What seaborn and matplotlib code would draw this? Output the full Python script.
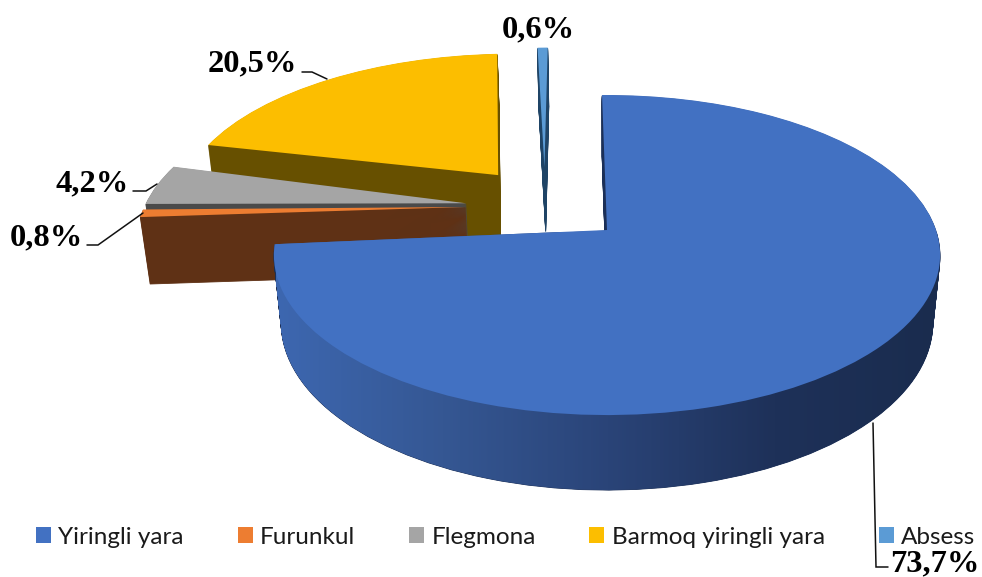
import numpy as np
import matplotlib
matplotlib.use("Agg")
import matplotlib.pyplot as plt
import seaborn as sns
from matplotlib.path import Path
from matplotlib.transforms import Affine2D, Transform

names = ["Yiringli yara", "Furunkul", "Flegmona", "Barmoq yiringli yara", "Absess"]
values = [73.7, 0.8, 4.2, 20.5, 0.6]
value_labels = ["73,7%", "0,8%", "4,2%", "20,5%", "0,6%"]

top_colors = ["#4271C2", "#ED7D31", "#A5A5A5", "#FCBE00", "#5B9BD5"]
wall_colors = ["#1B2F57", "#5F3115", "#4A4A4A", "#675000", "#1F4466"]
rim_colors = ["#3D67B0", "#355793", "#2A4478", "#1E3159", "#1A2C4E"]

# how far each slice is pulled out of the pie, in pie radii
offsets = [(0, 0), (-0.44, 0.151), (-0.44, 0.176), (-0.35, 0.372), (-0.203, 0.43)]
# small turn of a slice around its own tip, degrees
turns = [0, -1.3, -2, 0, 0]
draw_order = [5, 4, 3, 1, 2]

# camera numbers, fitted to the picture
CX, CY = 607, 230
A, B, D = 329, 156.1, 69
K, M = 0.1564, 0.022


class Tilt(Transform):
    input_dims = 2
    output_dims = 2

    def __init__(self, drop):
        super().__init__()
        self.drop = drop

    def transform_non_affine(self, pts):
        x, y = pts[:, 0], pts[:, 1]
        w = 1 + K * y + M * self.drop
        return np.column_stack([CX + A * x / w, CY + (-B * y + D * self.drop) / w])


sns.set_theme(style="white")
fig = plt.figure(figsize=(9.82, 5.77), dpi=100, facecolor="white")
ax = fig.add_axes([0, 0, 1, 1])

# stack of pies from the bottom up gives the thickness
blue_layers = []
for drop in np.linspace(1, 0, 72):
    wedges, _ = ax.pie(values, colors=top_colors, startangle=91, counterclock=False,
                       wedgeprops={"linewidth": 0})
    for i, w in enumerate(wedges):
        move = Affine2D().rotate_deg(turns[i]).translate(*offsets[i])
        w.set_transform(move + Tilt(drop) + ax.transData)
        if drop > 0:
            w.set_facecolor(wall_colors[i])
            # thin stroke so the narrow tips of the walls stay solid
            w.set_edgecolor(wall_colors[i])
            w.set_linewidth(0.6)
            w.set_zorder(draw_order[i] + 0.5 * (1 - drop))
        else:
            w.set_zorder(draw_order[i] + 0.7)
    blue_layers.append(Tilt(drop).transform_path(wedges[0].get_path()))

# side of the big slice is shaded left to right
rim_cmap = sns.blend_palette(rim_colors, as_cmap=True)
rim = ax.imshow(np.linspace(0, 1, 300).reshape(1, -1), cmap=rim_cmap, aspect="auto",
                extent=(276, 941, 577, 232), zorder=draw_order[0] + 0.6)
rim.set_clip_path(Path.make_compound_path(*blue_layers), transform=ax.transData)

# value labels and their leader lines
label_pos = [(935, 563.5), (46.5, 238), (92, 184), (252.5, 64), (538, 30)]
leaders = [
    ([873, 876, 888], [423, 567, 567]),
    ([87, 98, 143], [245, 245, 213]),
    ([133, 146, 157], [191, 191, 184]),
    ([302, 312, 327], [72, 72, 79]),
]
for lx, ly in leaders:
    ax.plot(lx, ly, color="#111111", lw=1.1, zorder=8, solid_joinstyle="miter")
for txt, (tx, ty) in zip(value_labels, label_pos):
    ax.text(tx, ty, txt, ha="center", va="center", color="black", fontsize=23.4,
            fontweight="bold", family="Liberation Serif", zorder=9)

ax.set_xlim(0, 982)
ax.set_ylim(577, 0)
ax.set_aspect("auto")
ax.axis("off")

leg = ax.legend(wedges, names, ncol=5, frameon=False, loc="center left",
                bbox_to_anchor=(36 / 982, 1 - 537 / 577), borderpad=0, borderaxespad=0,
                prop={"family": "Lato", "size": 17.5}, labelcolor="#1A1A1A",
                handlelength=0.62, handleheight=0.62, handletextpad=0.3, columnspacing=2.21)
leg.set_zorder(10)

fig.savefig("out.png", dpi=100)
